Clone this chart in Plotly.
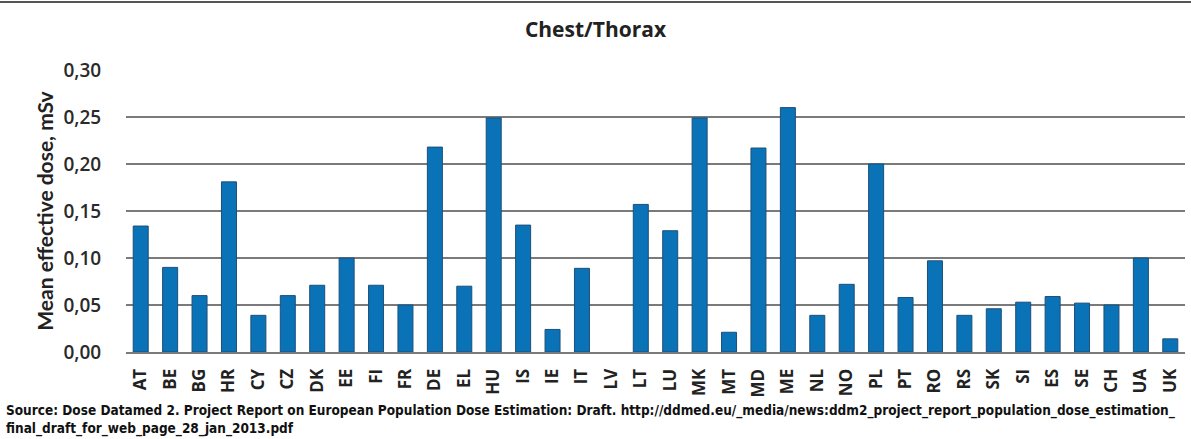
import plotly.graph_objects as go

# Country codes, in the order shown on the chart
countries = ['AT', 'BE', 'BG', 'HR', 'CY', 'CZ', 'DK', 'EE', 'FI', 'FR', 'DE', 'EL',
             'HU', 'IS', 'IE', 'IT', 'LV', 'LT', 'LU', 'MK', 'MT', 'MD', 'ME', 'NL',
             'NO', 'PL', 'PT', 'RO', 'RS', 'SK', 'SI', 'ES', 'SE', 'CH', 'UA', 'UK']

# Mean effective dose (mSv) (no bar for LV)
dose = [0.134, 0.090, 0.060, 0.181, 0.039, 0.060, 0.071, 0.100, 0.071, 0.050, 0.218, 0.070,
        0.249, 0.135, 0.024, 0.089, None, 0.157, 0.129, 0.249, 0.021, 0.217, 0.260, 0.039,
        0.072, 0.200, 0.058, 0.097, 0.039, 0.046, 0.053, 0.059, 0.052, 0.050, 0.100, 0.014]

y_ticks = [0.0, 0.05, 0.10, 0.15, 0.20, 0.25, 0.30]

title_text = 'Chest/Thorax'
y_title = 'Mean effective dose, mSv'
source_text = ('Source: Dose Datamed 2. Project Report on European Population Dose Estimation: Draft. '
               'http://ddmed.eu/_media/news:ddm2_project_report_population_dose_estimation_<br>'
               'final_draft_for_web_page_28_jan_2013.pdf')

W, H = 1191, 439
L, R, T, B = 126, 6, 70, 87
pw, ph = W - L - R, H - T - B

fig = go.Figure()
fig.add_trace(go.Bar(
    x=countries,
    y=dose,
    marker=dict(color='#0a73b8', line=dict(color='#1d4f78', width=1)),
))

fig.update_layout(
    width=W,
    height=H,
    margin=dict(l=L, r=R, t=T, b=B),
    paper_bgcolor='white',
    plot_bgcolor='white',
    separators=', ',
    bargap=0.49,
    showlegend=False,
    font=dict(family='Lato, Open Sans, sans-serif', color='#222222'),
    title=dict(text='<b>' + title_text + '</b>', x=0.5, xanchor='center',
               y=1 - 30 / H, yanchor='middle',
               font=dict(family='Open Sans, sans-serif', size=21, color='#222222')),
)

fig.update_yaxes(
    range=[0, 0.30],
    tickvals=y_ticks,
    tickformat='.2f',
    tickfont=dict(family='Open Sans, sans-serif', size=19, color='#2a2a2a', weight=600),
    showgrid=True,
    gridcolor='#7a7a7a',
    gridwidth=2,
    zeroline=False,
    showline=False,
    ticks='outside',
    tickcolor='white',
    ticklen=20,
    title=dict(text='<b>' + y_title + '</b>', font=dict(size=21, color='#222222'), standoff=4),
)

fig.update_xaxes(
    tickangle=-90,
    tickfont=dict(family='Open Sans, sans-serif', size=17, color='#222222', weight='bold'),
    showgrid=False,
    showline=True,
    linecolor='#7a7a7a',
    linewidth=2,
    ticks='outside',
    tickcolor='white',
    ticklen=8,
)

# top border of the figure frame
fig.add_shape(type='line', xref='paper', yref='paper',
              x0=-L / pw, x1=1 + R / pw, y0=1 + (T - 2) / ph, y1=1 + (T - 2) / ph,
              line=dict(color='#555555', width=2))

fig.add_annotation(
    text='<b>' + source_text + '</b>',
    xref='paper', yref='paper',
    x=-(L - 4) / pw, y=-(400 - T - ph) / ph,
    xanchor='left', yanchor='top', align='left',
    showarrow=False,
    font=dict(family='DejaVu Sans Condensed, Liberation Sans Narrow, sans-serif', size=13.5, color='#111111'),
)

# drop the browser's default page margin so the figure sits at the window's corner
fig.write_html('out.html', config={'displayModeBar': False},
               post_script="document.body.style.margin='0px';")
